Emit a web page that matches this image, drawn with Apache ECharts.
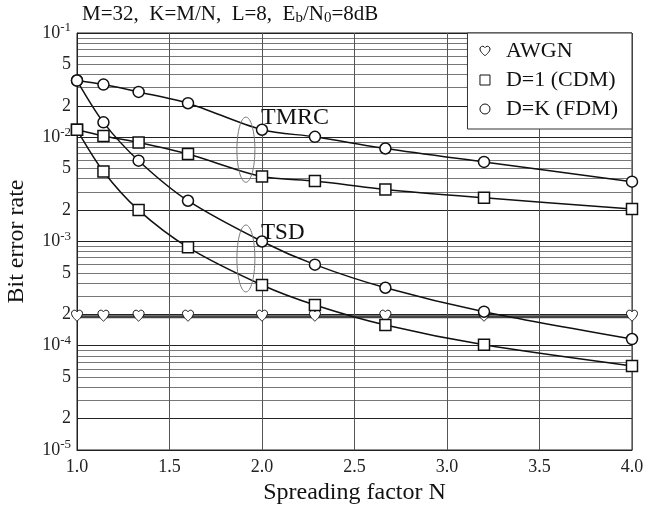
<!DOCTYPE html>
<html>
<head>
<meta charset="utf-8">
<script src="https://cdn.jsdelivr.net/npm/echarts@6/dist/echarts.min.js"></script>
<style>html,body{margin:0;background:#fff}#chart{width:646px;height:506px}</style>
</head>
<body>
<div id="chart"></div>
<script>
// spreading factor N = M/K, M = 32
const spread = [1, 1.143, 1.333, 1.6, 2, 2.286, 2.667, 3.2, 4];
const awgn = [1.9e-4, 1.9e-4, 1.9e-4, 1.9e-4, 1.9e-4, 1.9e-4, 1.9e-4, 1.9e-4, 1.9e-4];
const tmrcCdm = [1.18e-2, 1.03e-2, 8.9e-3, 6.9e-3, 4.2e-3, 3.8e-3, 3.16e-3, 2.63e-3, 2.05e-3];
const tmrcFdm = [3.5e-2, 3.2e-2, 2.72e-2, 2.12e-2, 1.18e-2, 1.01e-2, 7.8e-3, 5.8e-3, 3.75e-3];
const tsdCdm = [1.18e-2, 4.7e-3, 2.0e-3, 8.8e-4, 3.83e-4, 2.46e-4, 1.58e-4, 1.02e-4, 6.4e-5];
const tsdFdm = [3.5e-2, 1.39e-2, 5.96e-3, 2.46e-3, 1.0e-3, 6.0e-4, 3.6e-4, 2.12e-4, 1.16e-4];
const yLabelValues = [1e-5, 2e-5, 5e-5, 1e-4, 2e-4, 5e-4, 1e-3, 2e-3, 5e-3, 1e-2, 2e-2, 5e-2, 1e-1];
const decades = [-5, -4, -3, -2];
const mantissas = [1, 2, 3, 4, 5, 6, 7, 8, 9];
// ellipse groups: [label, x, y centre, y top, y bottom, label x, label y]
const groups = [["TMRC", 1.913, 7.6e-3, 1.56e-2, 3.7e-3, 1.995, 1.53e-2], ["TSD", 1.913, 6.87e-4, 1.44e-3, 3.28e-4, 1.995, 1.21e-3]];

const SERIF = "Liberation Serif";
const HEART = "path://M12 21C12 21 2 13.5 2 7.5C2 4.4 4.4 2 7.3 2C9.3 2 11 3.2 12 4.8C13 3.2 14.7 2 16.7 2C19.6 2 22 4.4 22 7.5C22 13.5 12 21 12 21Z";
const pts = (ys) => spread.map((x, i) => [x, ys[i]]);

// log grid: 1..9 x 10^e, plus the top decade
const gridValues = [];
decades.forEach((e) => mantissas.forEach((m) => gridValues.push(+(m * Math.pow(10, e)).toPrecision(3))));
gridValues.push(1e-1);
const gridColors = mantissas.map((m) => (m <= 2 ? "#222" : "#777"));

const mark = { color: "#fff", borderColor: "#111", borderWidth: 1.5 };
function curve(name, ys, symbol) {
  return {
    name, type: "line", data: pts(ys), smooth: 0.3, symbol, symbolSize: 11,
    lineStyle: { color: "#111", width: 1.5 }, itemStyle: mark, z: 3,
  };
}

const chart = echarts.init(document.getElementById("chart"), null, { renderer: "canvas" });
chart.setOption({
  animation: false,
  title: {
    left: 77, top: -3,
    text: "{a|M=32,  K=M/N,  L=8,  E}{s|b}{a|/N}{s|0}{a|=8dB}",
    textStyle: {
      rich: {
        a: { fontFamily: SERIF, fontSize: 21, fontWeight: "normal", color: "#111" },
        s: { fontFamily: SERIF, fontSize: 15, fontWeight: "normal", color: "#111", padding: [9, 0, 0, 0] },
      },
    },
  },
  legend: {
    orient: "vertical", right: 14, top: 33,
    backgroundColor: "#fff", borderColor: "#333", borderWidth: 1,
    padding: [7, 14, 9, 12], itemGap: 7, itemWidth: 10, itemHeight: 10,
    textStyle: { fontFamily: SERIF, fontSize: 22, color: "#111", padding: [0, 0, 0, 11] },
    data: [
      { name: "AWGN", icon: HEART, itemStyle: { color: "#fff", borderColor: "#111", borderWidth: 1 } },
      { name: "D=1 (CDM)", icon: "rect", itemStyle: { color: "#fff", borderColor: "#111", borderWidth: 1 } },
      { name: "D=K (FDM)", icon: "circle", itemStyle: { color: "#fff", borderColor: "#111", borderWidth: 1 } },
    ],
    selectedMode: false, z: 10,
  },
  grid: { left: 77, right: 14, top: 33, bottom: 56, outerBoundsMode: "none", show: true, borderColor: "#222", borderWidth: 1 },
  xAxis: {
    type: "value", min: 1, max: 4, interval: 0.5,
    name: "Spreading factor N", nameLocation: "middle", nameGap: 25,
    nameTextStyle: { fontFamily: SERIF, fontSize: 24, color: "#111" },
    axisLine: { lineStyle: { color: "#222" } },
    axisTick: { show: false },
    axisLabel: { fontFamily: SERIF, fontSize: 18, color: "#222", margin: 8, formatter: (v) => v.toFixed(1) },
    splitLine: { show: true, lineStyle: { color: "#555", width: 1 } },
  },
  yAxis: {
    type: "log", logBase: 10, min: 1e-5, max: 1e-1,
    name: "Bit error rate", nameLocation: "middle", nameGap: 48,
    nameTextStyle: { fontFamily: SERIF, fontSize: 24, color: "#111" },
    axisLine: { show: true, lineStyle: { color: "#222" } },
    axisTick: { show: false, customValues: gridValues },
    splitLine: { show: true, lineStyle: { color: gridColors, width: 1 } },
    axisLabel: {
      customValues: yLabelValues, margin: 6,
      formatter: (v) => {
        const e = Math.floor(Math.log10(v) + 1e-9);
        const m = Math.round(v / Math.pow(10, e));
        return m === 1 ? "{b|10}{s|" + e + "}" : "{b|" + m + "}";
      },
      rich: {
        b: { fontFamily: SERIF, fontSize: 18, color: "#222" },
        s: { fontFamily: SERIF, fontSize: 13, color: "#222", padding: [0, 0, 10, 0] },
      },
    },
  },
  series: [
    {
      name: "AWGN", type: "line", data: pts(awgn), symbol: HEART, symbolSize: 11, symbolOffset: [0, -1],
      lineStyle: { color: "#444", width: 3 }, itemStyle: { color: "#fff", borderColor: "#111", borderWidth: 1 }, z: 2,
    },
    curve("D=1 (CDM)", tmrcCdm, "rect"),
    curve("D=K (FDM)", tmrcFdm, "circle"),
    curve("D=1 (CDM)", tsdCdm, "rect"),
    curve("D=K (FDM)", tsdFdm, "circle"),
  ],
});

// group ellipses and labels, placed from data coordinates
const graphics = [];
groups.forEach(([label, cx, cy, yTop, yBot, tx, ty]) => {
  const c = chart.convertToPixel({ gridIndex: 0 }, [cx, cy]);
  const t = chart.convertToPixel({ gridIndex: 0 }, [cx, yTop]);
  const b = chart.convertToPixel({ gridIndex: 0 }, [cx, yBot]);
  const l = chart.convertToPixel({ gridIndex: 0 }, [tx, ty]);
  graphics.push({ type: "ellipse", shape: { cx: c[0], cy: (t[1] + b[1]) / 2, rx: 9, ry: (b[1] - t[1]) / 2 },
    style: { fill: "none", stroke: "#777", lineWidth: 1 }, z: 5, silent: true });
  graphics.push({ type: "text", x: l[0], y: l[1], style: { text: label, font: (label === "TSD" ? 23 : 24) + "px " + SERIF, fill: "#111", verticalAlign: "middle" }, z: 5 });
});
chart.setOption({ graphic: graphics });
</script>
</body>
</html>
